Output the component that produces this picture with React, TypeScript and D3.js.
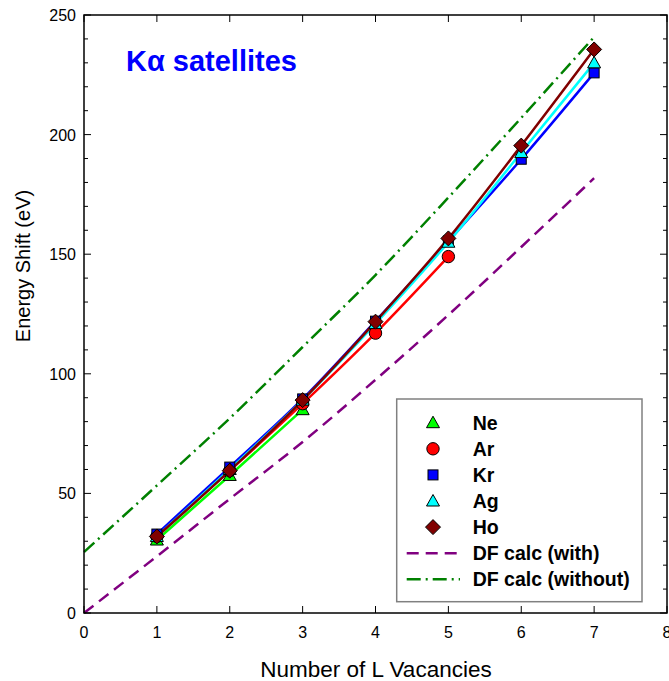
import React from "react";
import * as d3 from "d3";

const vacancies = [1, 2, 3, 4, 5, 6, 7];
const neValues = [30.5, 57.5, 85];
const arValues = [32, 59.5, 87.5, 117, 149];
const krValues = [33, 61, 89.5, 122, 155.5, 189.7, 225.8];
const agValues = [32, 60, 89, 121, 155, 192.5, 230];
const hoValues = [32, 59.5, 89, 121.8, 156.6, 195.4, 235.6];

const dfX = [0, 1, 2, 3, 4, 5, 6, 7];
const dfWith = [0, 23.7, 47.7, 71.5, 97.5, 124.6, 153, 181.8];
const dfWithout = [25.5, 53.3, 81.4, 111.2, 141.3, 173.7, 207, 240.8];

const xTicks = [0, 1, 2, 3, 4, 5, 6, 7, 8];
const yTicks = [0, 50, 100, 150, 200, 250];

type Series = { name: string; values: number[]; color: string; marker: string };
const series: Series[] = [
  { name: "Ne", values: neValues, color: "#00ff00", marker: "triangle" },
  { name: "Ar", values: arValues, color: "#ff0000", marker: "circle" },
  { name: "Kr", values: krValues, color: "#0000ff", marker: "square" },
  { name: "Ag", values: agValues, color: "#00ffff", marker: "triangle" },
  { name: "Ho", values: hoValues, color: "#800000", marker: "diamond" },
];

const W = 669;
const H = 681;
const L = 84;
const R = 667;
const T = 15;
const B = 613;

const x = d3.scaleLinear().domain([0, 8]).range([L, R]);
const y = d3.scaleLinear().domain([0, 250]).range([B, T]);

function Marker({ kind, cx, cy, color }: { kind: string; cx: number; cy: number; color: string }) {
  const stroke = "#000";
  if (kind === "circle") return <circle cx={cx} cy={cy} r={6.2} fill={color} stroke={stroke} strokeWidth={1} />;
  if (kind === "square") return <rect x={cx - 5} y={cy - 5} width={10} height={10} fill={color} stroke={stroke} strokeWidth={1} />;
  if (kind === "diamond")
    return (
      <path
        d={`M${cx},${cy - 7.5}L${cx + 7.5},${cy}L${cx},${cy + 7.5}L${cx - 7.5},${cy}Z`}
        fill={color}
        stroke={stroke}
        strokeWidth={1}
      />
    );
  return (
    <path
      d={`M${cx},${cy - 6.5}L${cx + 6.5},${cy + 5}L${cx - 6.5},${cy + 5}Z`}
      fill={color}
      stroke={stroke}
      strokeWidth={1}
    />
  );
}

export default function App() {
  const line = d3
    .line<[number, number]>()
    .x((d) => x(d[0]))
    .y((d) => y(d[1]))
    .curve(d3.curveMonotoneX);

  const minorY = d3.range(0, 251, 10);
  const legendItems = series.map((s) => s.name);
  const legY0 = 422.7;
  const legDy = 26.1;
  const legFont = 19.5;

  return (
    <svg
      width={W}
      height={H}
      style={{ position: "absolute", left: 0, top: 0, background: "#fff" }}
      fontFamily="'Liberation Sans', Arial, sans-serif"
    >
      <rect x={0} y={0} width={W} height={H} fill="#fff" />
      <path
        d={line(dfX.map((v, i) => [v, dfWith[i]]) as [number, number][]) || ""}
        fill="none"
        stroke="#800080"
        strokeWidth={2.5}
        strokeDasharray="12,7"
      />
      <path
        d={line(dfX.map((v, i) => [v, dfWithout[i]]) as [number, number][]) || ""}
        fill="none"
        stroke="#008000"
        strokeWidth={2.5}
        strokeDasharray="14,5,2,5"
      />
      {series.map((s) => (
        <path
          key={s.name}
          d={line(s.values.map((v, i) => [vacancies[i], v]) as [number, number][]) || ""}
          fill="none"
          stroke={s.color}
          strokeWidth={2.5}
        />
      ))}
      {series.map((s) => (
        <g key={s.name + "m"}>
          {s.values.map((v, i) => (
            <Marker key={i} kind={s.marker} cx={x(vacancies[i])} cy={y(v)} color={s.color} />
          ))}
        </g>
      ))}
      <rect x={L} y={T} width={R - L} height={B - T} fill="none" stroke="#000" strokeWidth={1.5} />
      {minorY.map((v) => {
        const major = v % 50 === 0;
        const len = major ? 7 : 4;
        return (
          <g key={"yt" + v}>
            <line x1={L} x2={L + len} y1={y(v)} y2={y(v)} stroke="#000" strokeWidth={1} />
            <line x1={R} x2={R - len} y1={y(v)} y2={y(v)} stroke="#000" strokeWidth={1} />
          </g>
        );
      })}
      {xTicks.map((v) => (
        <g key={"xt" + v}>
          <line x1={x(v)} x2={x(v)} y1={B} y2={B - 7} stroke="#000" strokeWidth={1} />
          <line x1={x(v)} x2={x(v)} y1={T} y2={T + 7} stroke="#000" strokeWidth={1} />
          <text x={x(v)} y={638} fontSize={16} textAnchor="middle" fill="#000">
            {v}
          </text>
        </g>
      ))}
      {yTicks.map((v) => (
        <text key={"yl" + v} x={76} y={y(v) + 6} fontSize={16} textAnchor="end" fill="#000">
          {v}
        </text>
      ))}
      <text x={376} y={677} fontSize={22.5} textAnchor="middle" fill="#000">
        Number of L Vacancies
      </text>
      <text transform={`translate(30,266) rotate(-90)`} fontSize={20} textAnchor="middle" fill="#000">
        Energy Shift (eV)
      </text>
      <text x={126} y={71} fontSize={29} fontWeight="bold" fill="#0000ff">
        Kα satellites
      </text>
      <rect x={396.7} y={399} width={245.3} height={202.7} fill="#fff" stroke="#808080" strokeWidth={1.5} />
      {legendItems.map((name, i) => {
        const s = series[i];
        const cy = legY0 + i * legDy;
        return (
          <g key={"leg" + name}>
            <Marker kind={s.marker} cx={433} cy={cy} color={s.color} />
            <text x={472.7} y={cy + 7} fontSize={legFont} fontWeight="bold" fill="#000">
              {name}
            </text>
          </g>
        );
      })}
      <line x1={406.7} x2={460} y1={legY0 + 5 * legDy} y2={legY0 + 5 * legDy} stroke="#800080" strokeWidth={2.5} strokeDasharray="12,7" />
      <text x={472.7} y={legY0 + 5 * legDy + 7} fontSize={legFont} fontWeight="bold" fill="#000">
        DF calc (with)
      </text>
      <line x1={406.7} x2={460} y1={legY0 + 6 * legDy} y2={legY0 + 6 * legDy} stroke="#008000" strokeWidth={2.5} strokeDasharray="14,5,2,5" />
      <text x={472.7} y={legY0 + 6 * legDy + 7} fontSize={legFont} fontWeight="bold" fill="#000">
        DF calc (without)
      </text>
    </svg>
  );
}
